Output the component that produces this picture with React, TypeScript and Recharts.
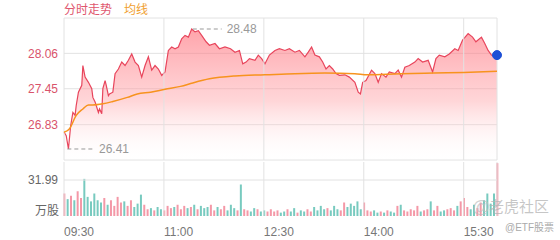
import React from 'react';
import {
  ComposedChart, Area, Line, Bar, Cell, XAxis, YAxis, CartesianGrid,
  ReferenceLine, ReferenceDot,
} from 'recharts';

// minutes since 09:30
const priceTimes = [0, 2, 4, 6, 8, 10, 11, 13, 16, 17, 19, 22, 25, 26, 28, 31, 32, 34, 35, 37, 38, 40, 41, 44, 46, 49, 52, 55, 58, 61, 64, 67, 70, 73, 76, 79, 82, 85, 88, 91, 94, 97, 100, 103, 106, 109, 112, 115, 118, 121, 124, 128, 131, 136, 140, 145, 150, 154, 158, 161, 164, 167, 172, 175, 178, 181, 185, 190, 194, 199, 203, 208, 212, 217, 220, 223, 226, 230, 233, 236, 239, 242, 245, 248, 253, 257, 262, 265, 267, 269, 272, 277, 280, 283, 286, 290, 293, 298, 301, 304, 307, 311, 316, 319, 323, 328, 332, 335, 338, 343, 347, 352, 355, 359, 364, 368, 371, 376, 379, 382, 385, 388, 390];
const prices = [26.70, 26.64, 26.41, 26.81, 27.04, 26.99, 27.16, 27.39, 27.51, 27.85, 27.65, 27.56, 27.45, 27.30, 27.22, 27.04, 27.10, 27.02, 27.45, 27.59, 27.51, 27.33, 27.36, 27.39, 27.71, 27.79, 27.91, 27.85, 27.94, 28.05, 27.91, 27.85, 27.65, 27.85, 28.00, 27.77, 27.85, 27.79, 27.68, 27.74, 28.11, 28.17, 28.14, 28.17, 28.31, 28.37, 28.34, 28.48, 28.43, 28.45, 28.37, 28.26, 28.20, 28.23, 28.14, 28.17, 28.14, 28.08, 28.11, 27.88, 27.91, 27.97, 27.94, 28.03, 27.97, 27.88, 28.03, 28.11, 28.14, 28.11, 28.14, 28.08, 28.11, 28.00, 28.08, 28.17, 28.03, 28.00, 27.91, 27.79, 27.85, 27.79, 27.71, 27.68, 27.69, 27.65, 27.56, 27.39, 27.36, 27.56, 27.59, 27.77, 27.71, 27.56, 27.71, 27.65, 27.74, 27.71, 27.77, 27.65, 27.82, 27.85, 27.91, 27.97, 27.91, 27.94, 27.74, 27.97, 28.03, 28.00, 28.05, 28.14, 28.11, 28.29, 28.40, 28.34, 28.26, 28.34, 28.23, 28.11, 28.03, 28.00, 28.03];

const avgTimes = [0, 5, 11, 17, 22, 26, 35, 44, 57, 66, 78, 91, 105, 116, 131, 154, 181, 208, 235, 262, 273, 303, 333, 360, 390];
const avgPrices = [26.70, 26.76, 26.99, 27.10, 27.17, 27.17, 27.19, 27.23, 27.30, 27.36, 27.39, 27.44, 27.49, 27.55, 27.62, 27.67, 27.69, 27.71, 27.72, 27.71, 27.69, 27.71, 27.72, 27.73, 27.75];

// volume (万股), one value every 3 minutes
const volStep = 3;
const volumes = [20, 15, 18, 14, 22, 16, 33, 17, 13, 20, 14, 12, 16, 10, 14, 9, 17, 12, 13, 9, 14, 8, 11, 19, 10, 6, 7, 5, 8, 6, 5, 9, 7, 8, 10, 6, 9, 7, 8, 10, 6, 9, 7, 8, 10, 5, 8, 6, 9, 5, 10, 7, 5, 28, 6, 5, 4, 7, 6, 4, 5, 4, 6, 4, 5, 3, 4, 6, 4, 7, 3, 5, 4, 6, 4, 8, 5, 9, 6, 7, 5, 9, 6, 5, 12, 8, 11, 9, 13, 6, 12, 5, 4, 5, 3, 4, 3, 5, 4, 3, 9, 10, 5, 4, 6, 5, 9, 4, 5, 6, 13, 5, 9, 4, 5, 6, 7, 5, 9, 13, 16, 8, 6, 10, 7, 12, 14, 20, 11, 20, 47];

const priceTicks = [26.83, 27.45, 28.06];
const pctLabels = ['2.24%', '4.59%', '6.95%'];
const timeTicks = [0, 90, 180, 270, 360];
const timeLabels = ['09:30', '11:00', '12:30', '14:00', '15:30'];
const gridTimes = [0, 90, 180, 270, 360, 390];
const volTick = 31.99;

const maxPoint = { t: 115, p: 28.48 };
const minPoint = { t: 4, p: 26.41 };
const lastPoint = { t: 390, p: 28.03 };

const priceDomain = [26.22, 28.67];
const volDomain = [0, 48];

const font = '"Liberation Sans", Arial, "Noto Sans CJK SC", sans-serif';
const red = '#d9536b';
const gridColor = '#e2e2e2';

// merge price + average rows by time
const allTimes = Array.from(new Set([...priceTimes, ...avgTimes])).sort((a, b) => a - b);
const priceData = allTimes.map((t) => {
  const pi = priceTimes.indexOf(t);
  const ai = avgTimes.indexOf(t);
  return { t, price: pi >= 0 ? prices[pi] : null, avg: ai >= 0 ? avgPrices[ai] : null };
});

const volData = volumes.map((v, i) => {
  const t = i * volStep;
  let k = priceTimes.findIndex((x) => x >= t);
  if (k < 0) k = priceTimes.length - 1;
  const up = k === 0 || prices[k] >= prices[k - 1];
  return { t, vol: v, up };
});

const TimeTick = (props: any) => {
  const { x, y, index } = props;
  return (
    <text x={x} y={y + 12} textAnchor="start" fill="#777" fontSize={12}>
      {timeLabels[index]}
    </text>
  );
};

export default function App() {
  return (
    <div style={{ position: 'absolute', left: 0, top: 0, width: 560, height: 240, fontFamily: font, background: '#fff' }}>
      <div style={{ position: 'absolute', left: 64, top: 2, fontSize: 12, color: '#e0566e', lineHeight: '16px' }}>分时走势</div>
      <div style={{ position: 'absolute', left: 124, top: 2, fontSize: 12, color: '#f0a030', lineHeight: '16px' }}>均线</div>

      <div style={{ position: 'absolute', left: 0, top: 0 }}>
        <ComposedChart width={560} height={162} data={priceData} margin={{ top: 18, right: 3, bottom: 2, left: 4 }}>
          <defs>
            <linearGradient id="priceFill" x1="0" y1="0" x2="0" y2="1">
              <stop offset="0%" stopColor="#ff5f6b" stopOpacity={0.95} />
              <stop offset="55%" stopColor="#ffa3a8" stopOpacity={0.75} />
              <stop offset="100%" stopColor="#ffffff" stopOpacity={0.1} />
            </linearGradient>
          </defs>
          <CartesianGrid vertical={false} stroke={gridColor} yAxisId="l" />
          <XAxis dataKey="t" type="number" domain={[0, 390]} hide />
          <YAxis yAxisId="l" domain={priceDomain} ticks={priceTicks} width={60} axisLine={false} tickLine={false}
            tickSize={0} tickMargin={6} tick={{ fill: red, fontSize: 12 }} tickFormatter={(v: number) => v.toFixed(2)} />
          <YAxis yAxisId="r" orientation="right" domain={priceDomain} ticks={priceTicks} width={60} axisLine={false} tickLine={false}
            tickSize={0} tickMargin={5} tick={{ fill: red, fontSize: 12 }} tickFormatter={(_v: number, i: number) => pctLabels[i]} />
          {gridTimes.map((t) => (
            <ReferenceLine key={t} yAxisId="l" x={t} stroke={gridColor} />
          ))}
          <Area yAxisId="l" type="linear" dataKey="price" stroke="#e8455c" strokeWidth={1.2} fill="url(#priceFill)"
            connectNulls dot={false} activeDot={false} isAnimationActive={false} />
          <Line yAxisId="l" type="monotone" dataKey="avg" stroke="#f7931e" strokeWidth={1.5}
            connectNulls dot={false} activeDot={false} isAnimationActive={false} />
          <ReferenceLine yAxisId="l" segment={[{ x: maxPoint.t + 1, y: maxPoint.p }, { x: maxPoint.t + 27, y: maxPoint.p }]}
            stroke="#999" strokeDasharray="4 3" />
          <ReferenceDot yAxisId="l" x={maxPoint.t + 27} y={maxPoint.p} r={1} fill="none" stroke="none"
            label={{ value: maxPoint.p.toFixed(2), position: 'right', fill: '#999', fontSize: 12, offset: 4 }} />
          <ReferenceLine yAxisId="l" segment={[{ x: minPoint.t - 1, y: minPoint.p }, { x: minPoint.t + 23, y: minPoint.p }]}
            stroke="#999" strokeDasharray="4 3" />
          <ReferenceDot yAxisId="l" x={minPoint.t + 23} y={minPoint.p} r={1} fill="none" stroke="none"
            label={{ value: minPoint.p.toFixed(2), position: 'right', fill: '#999', fontSize: 12, offset: 4 }} />
          <ReferenceDot yAxisId="l" x={lastPoint.t} y={lastPoint.p} r={4.5} fill="#1d4fd6" stroke="#1d4fd6" ifOverflow="visible" />
        </ComposedChart>
      </div>

      <div style={{ position: 'absolute', left: 0, top: 160 }}>
        <ComposedChart width={560} height={80} data={volData} margin={{ top: 2, right: 63, bottom: 0, left: 4 }}>
          <XAxis dataKey="t" type="number" domain={[0, 390]} ticks={timeTicks} height={24} axisLine={false} tickLine={false}
            tick={<TimeTick />} interval={0} />
          <YAxis domain={volDomain} ticks={[volTick]} width={60} axisLine={false} tickLine={false}
            tickSize={0} tickMargin={6} tick={{ fill: '#666', fontSize: 12 }} tickFormatter={(v: number) => v.toFixed(2)} />
          <ReferenceLine y={volTick} stroke={gridColor} />
          {gridTimes.map((t) => (
            <ReferenceLine key={t} x={t} stroke={gridColor} />
          ))}
          <Bar dataKey="vol" barSize={2} isAnimationActive={false}>
            {volData.map((d, i) => (
              <Cell key={i} fill={d.up ? '#f0768a' : '#4bb8a9'} fillOpacity={0.75} />
            ))}
          </Bar>
        </ComposedChart>
      </div>

      <div style={{ position: 'absolute', left: 35, top: 203, fontSize: 12, color: '#666', lineHeight: '16px' }}>万股</div>
      <div style={{ position: 'absolute', left: 472, top: 196, fontSize: 18, color: 'rgba(190,190,190,0.7)', lineHeight: '22px' }}>@</div>
      <div style={{ position: 'absolute', left: 489, top: 198, fontSize: 15, color: 'rgba(180,180,180,0.75)', lineHeight: '18px' }}>老虎社区</div>
      <div style={{ position: 'absolute', left: 505, top: 221, fontSize: 10, color: '#aaa', lineHeight: '14px' }}>@ETF股票</div>
    </div>
  );
}
